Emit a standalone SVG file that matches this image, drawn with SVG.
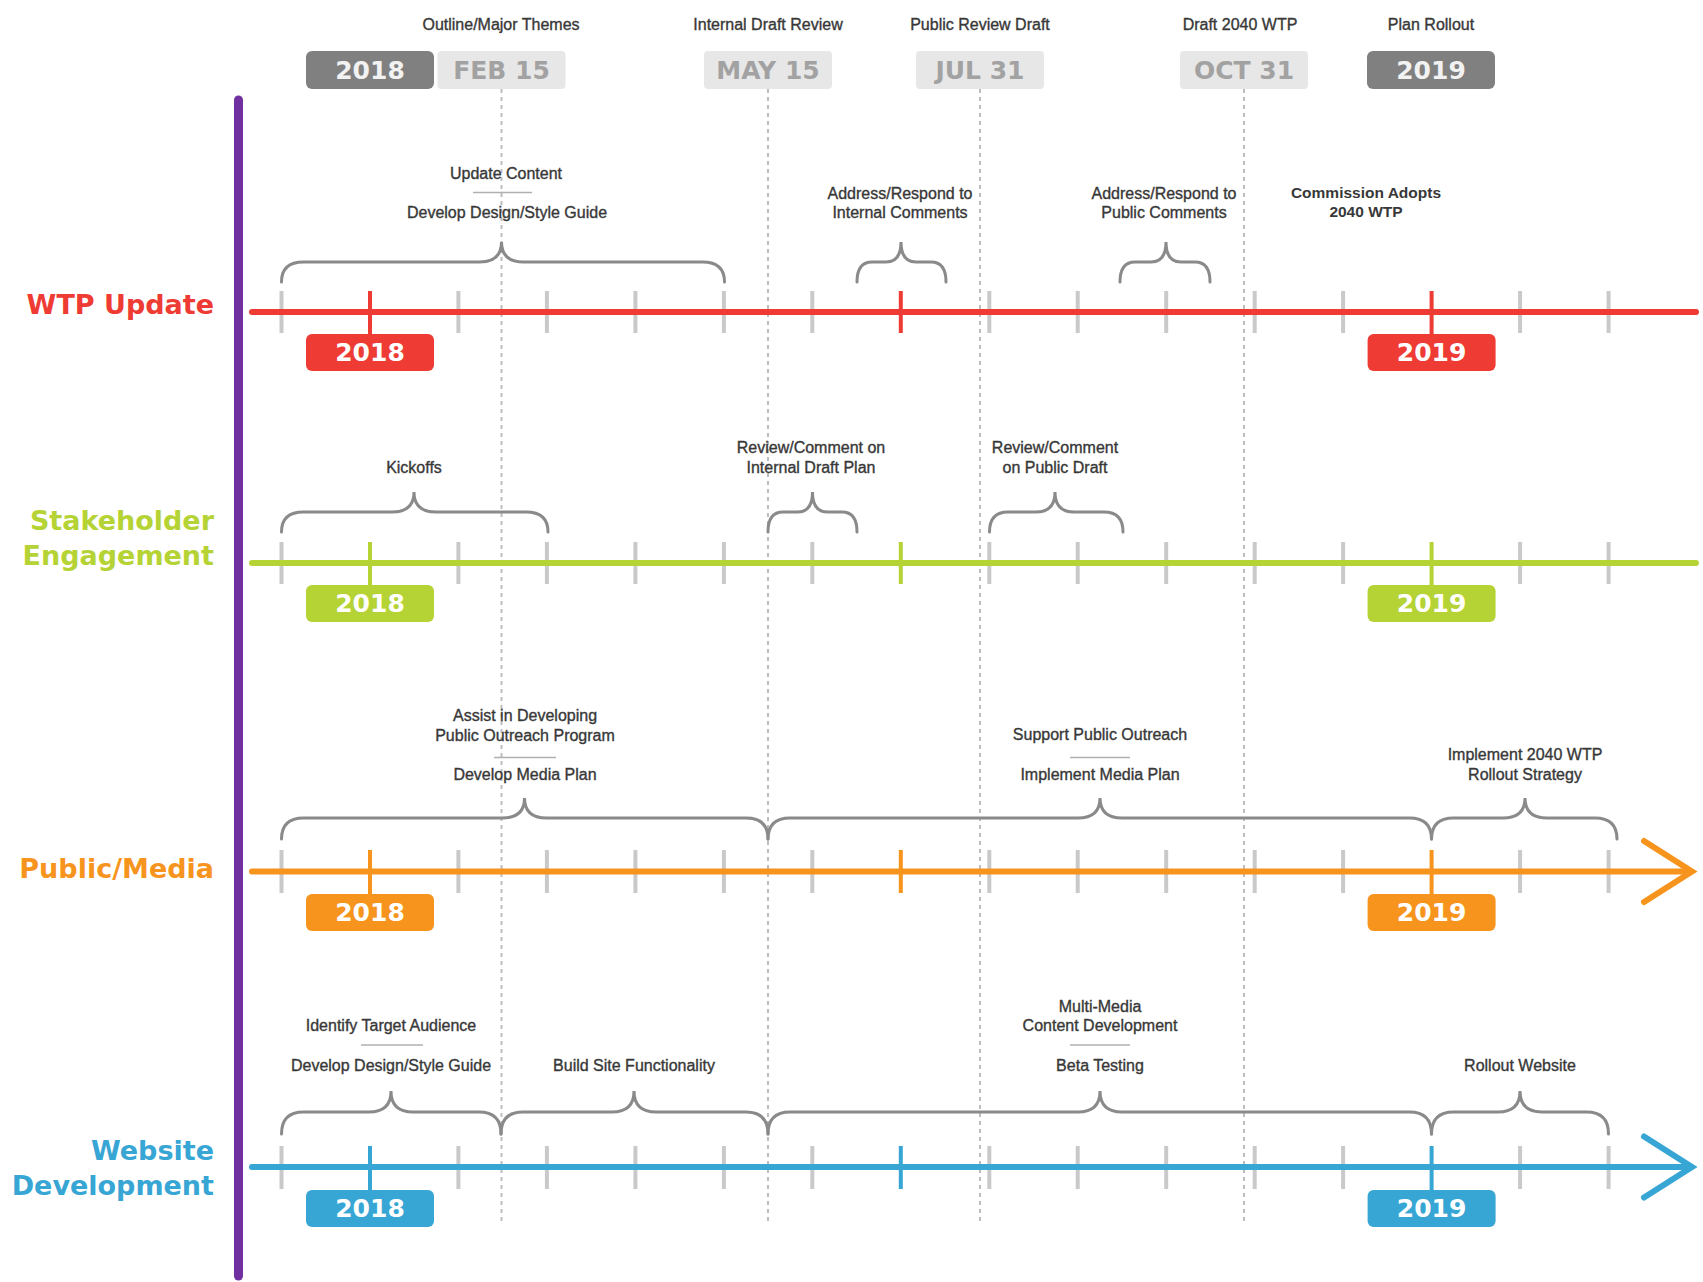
<svg xmlns="http://www.w3.org/2000/svg" width="1703" height="1282" viewBox="0 0 1703 1282">
<style>
.ann{font-family:"Liberation Sans",Arial,sans-serif;font-size:16px;fill:#383838;stroke:#383838;stroke-width:0.35;text-anchor:middle}
.annb{font-family:"Liberation Sans",Arial,sans-serif;font-size:15.5px;font-weight:bold;fill:#383838;text-anchor:middle}
.lab{font-family:"DejaVu Sans",sans-serif;font-size:27px;font-weight:bold;text-anchor:end}
.yr{font-family:"DejaVu Sans",sans-serif;font-size:25px;font-weight:bold;text-anchor:middle;fill:#ffffff}
.hd{font-family:"DejaVu Sans",sans-serif;font-size:25px;font-weight:bold;text-anchor:middle}
.brace{fill:none;stroke:#8a8a8a;stroke-width:3;stroke-linecap:round}
.tick{stroke:#c9c9c9;stroke-width:4}
.sep{stroke:#b0b0b0;stroke-width:1.5}
.dash{stroke:#bdbdbd;stroke-width:2;stroke-dasharray:4 4}
</style>
<rect width="1703" height="1282" fill="#ffffff"/>

<g id="milestone-lines">
<line class="dash" x1="501.5" y1="89" x2="501.5" y2="1225"/>
<line class="dash" x1="768" y1="89" x2="768" y2="1225"/>
<line class="dash" x1="980" y1="89" x2="980" y2="1225"/>
<line class="dash" x1="1244" y1="89" x2="1244" y2="1225"/>
</g>

<g id="header">
<text class="ann" x="501" y="30">Outline/Major Themes</text>
<text class="ann" x="768" y="30">Internal Draft Review</text>
<text class="ann" x="980" y="30">Public Review Draft</text>
<text class="ann" x="1240" y="30">Draft 2040 WTP</text>
<text class="ann" x="1431" y="30">Plan Rollout</text>
<rect x="306" y="51" width="128" height="38" rx="6" fill="#808080"/>
<text class="hd" x="370" y="79" fill="#f2f2f2">2018</text>
<rect x="437.5" y="51" width="128" height="38" rx="4" fill="#e7e7e7"/>
<text class="hd" x="501.5" y="79" fill="#a2a2a2">FEB 15</text>
<rect x="704" y="51" width="128" height="38" rx="4" fill="#e7e7e7"/>
<text class="hd" x="768" y="79" fill="#a2a2a2">MAY 15</text>
<rect x="916" y="51" width="128" height="38" rx="4" fill="#e7e7e7"/>
<text class="hd" x="980" y="79" fill="#a2a2a2">JUL 31</text>
<rect x="1180" y="51" width="128" height="38" rx="4" fill="#e7e7e7"/>
<text class="hd" x="1244" y="79" fill="#a2a2a2">OCT 31</text>
<rect x="1367" y="51" width="128" height="38" rx="6" fill="#808080"/>
<text class="hd" x="1431" y="79" fill="#f2f2f2">2019</text>
</g>

<g id="divider">
<line x1="238.5" y1="100" x2="238.5" y2="1276" stroke="#7030a0" stroke-width="9" stroke-linecap="round"/>
</g>

<!-- Row 1: WTP Update -->
<g id="wtp-update">
<text class="lab" x="214" y="314" fill="#ee3b33">WTP Update</text>
<g>
<line class="tick" x1="281.5" y1="291" x2="281.5" y2="333"/>
<line class="tick" x1="458.4" y1="291" x2="458.4" y2="333"/>
<line class="tick" x1="546.9" y1="291" x2="546.9" y2="333"/>
<line class="tick" x1="635.4" y1="291" x2="635.4" y2="333"/>
<line class="tick" x1="723.9" y1="291" x2="723.9" y2="333"/>
<line class="tick" x1="812.3" y1="291" x2="812.3" y2="333"/>
<line class="tick" x1="989.3" y1="291" x2="989.3" y2="333"/>
<line class="tick" x1="1077.7" y1="291" x2="1077.7" y2="333"/>
<line class="tick" x1="1166.2" y1="291" x2="1166.2" y2="333"/>
<line class="tick" x1="1254.7" y1="291" x2="1254.7" y2="333"/>
<line class="tick" x1="1343.1" y1="291" x2="1343.1" y2="333"/>
<line class="tick" x1="1520.1" y1="291" x2="1520.1" y2="333"/>
<line class="tick" x1="1608.6" y1="291" x2="1608.6" y2="333"/>
</g>
<line x1="252" y1="312" x2="1696" y2="312" stroke="#ee3b33" stroke-width="6" stroke-linecap="round"/>
<line x1="370" y1="291" x2="370" y2="336" stroke="#ee3b33" stroke-width="4"/>
<line x1="900.8" y1="291" x2="900.8" y2="333" stroke="#ee3b33" stroke-width="4"/>
<line x1="1431.6" y1="291" x2="1431.6" y2="336" stroke="#ee3b33" stroke-width="4"/>
<rect x="306" y="334" width="128" height="37" rx="6" fill="#ee3b33"/>
<text class="yr" x="370" y="361">2018</text>
<rect x="1367.6" y="334" width="128" height="37" rx="6" fill="#ee3b33"/>
<text class="yr" x="1431.6" y="361">2019</text>
<text class="ann" x="506" y="178.5">Update Content</text>
<line class="sep" x1="473" y1="192.5" x2="532" y2="192.5"/>
<text class="ann" x="507" y="218">Develop Design/Style Guide</text>
<text class="ann" x="900" y="198.5">Address/Respond to</text>
<text class="ann" x="900" y="218">Internal Comments</text>
<text class="ann" x="1164" y="198.5">Address/Respond to</text>
<text class="ann" x="1164" y="218">Public Comments</text>
<text class="annb" x="1366" y="197.5">Commission Adopts</text>
<text class="annb" x="1366" y="216.5">2040 WTP</text>
<path class="brace" d="M281.5,282 Q281.5,262 303.5,262 L479.5,262 Q501.5,262 501.5,242 Q501.5,262 523.5,262 L702.5,262 Q724.5,262 724.5,282"/>
<path class="brace" d="M857,282 Q857,262 872,262 L886,262 Q901,262 901,242 Q901,262 916,262 L931,262 Q946,262 946,282"/>
<path class="brace" d="M1120,282 Q1120,262 1135,262 L1151,262 Q1166,262 1166,242 Q1166,262 1181,262 L1195,262 Q1210,262 1210,282"/>
</g>

<!-- Row 2: Stakeholder Engagement -->
<g id="stakeholder-engagement">
<text class="lab" x="214" y="530" fill="#b5d334">Stakeholder</text>
<text class="lab" x="214" y="565" fill="#b5d334">Engagement</text>
<g>
<line class="tick" x1="281.5" y1="542" x2="281.5" y2="584"/>
<line class="tick" x1="458.4" y1="542" x2="458.4" y2="584"/>
<line class="tick" x1="546.9" y1="542" x2="546.9" y2="584"/>
<line class="tick" x1="635.4" y1="542" x2="635.4" y2="584"/>
<line class="tick" x1="723.9" y1="542" x2="723.9" y2="584"/>
<line class="tick" x1="812.3" y1="542" x2="812.3" y2="584"/>
<line class="tick" x1="989.3" y1="542" x2="989.3" y2="584"/>
<line class="tick" x1="1077.7" y1="542" x2="1077.7" y2="584"/>
<line class="tick" x1="1166.2" y1="542" x2="1166.2" y2="584"/>
<line class="tick" x1="1254.7" y1="542" x2="1254.7" y2="584"/>
<line class="tick" x1="1343.1" y1="542" x2="1343.1" y2="584"/>
<line class="tick" x1="1520.1" y1="542" x2="1520.1" y2="584"/>
<line class="tick" x1="1608.6" y1="542" x2="1608.6" y2="584"/>
</g>
<line x1="252" y1="563" x2="1696" y2="563" stroke="#b5d334" stroke-width="6" stroke-linecap="round"/>
<line x1="370" y1="542" x2="370" y2="587" stroke="#b5d334" stroke-width="4"/>
<line x1="900.8" y1="542" x2="900.8" y2="584" stroke="#b5d334" stroke-width="4"/>
<line x1="1431.6" y1="542" x2="1431.6" y2="587" stroke="#b5d334" stroke-width="4"/>
<rect x="306" y="585" width="128" height="37" rx="6" fill="#b5d334"/>
<text class="yr" x="370" y="612">2018</text>
<rect x="1367.6" y="585" width="128" height="37" rx="6" fill="#b5d334"/>
<text class="yr" x="1431.6" y="612">2019</text>
<text class="ann" x="414" y="473">Kickoffs</text>
<text class="ann" x="811" y="452.5">Review/Comment on</text>
<text class="ann" x="811" y="472.5">Internal Draft Plan</text>
<text class="ann" x="1055" y="452.5">Review/Comment</text>
<text class="ann" x="1055" y="472.5">on Public Draft</text>
<path class="brace" d="M281.5,532 Q281.5,512 303.5,512 L392,512 Q414,512 414,492 Q414,512 436,512 L526,512 Q548,512 548,532"/>
<path class="brace" d="M768,532 Q768,512 783,512 L797.5,512 Q812.5,512 812.5,492 Q812.5,512 827.5,512 L842,512 Q857,512 857,532"/>
<path class="brace" d="M989.5,532 Q989.5,512 1008,512 L1036,512 Q1055,512 1055,492 Q1055,512 1074,512 L1104,512 Q1123,512 1123,532"/>
</g>

<!-- Row 3: Public/Media -->
<g id="public-media">
<text class="lab" x="214" y="878" fill="#f7941d">Public/Media</text>
<g>
<line class="tick" x1="281.5" y1="850" x2="281.5" y2="893"/>
<line class="tick" x1="458.4" y1="850" x2="458.4" y2="893"/>
<line class="tick" x1="546.9" y1="850" x2="546.9" y2="893"/>
<line class="tick" x1="635.4" y1="850" x2="635.4" y2="893"/>
<line class="tick" x1="723.9" y1="850" x2="723.9" y2="893"/>
<line class="tick" x1="812.3" y1="850" x2="812.3" y2="893"/>
<line class="tick" x1="989.3" y1="850" x2="989.3" y2="893"/>
<line class="tick" x1="1077.7" y1="850" x2="1077.7" y2="893"/>
<line class="tick" x1="1166.2" y1="850" x2="1166.2" y2="893"/>
<line class="tick" x1="1254.7" y1="850" x2="1254.7" y2="893"/>
<line class="tick" x1="1343.1" y1="850" x2="1343.1" y2="893"/>
<line class="tick" x1="1520.1" y1="850" x2="1520.1" y2="893"/>
<line class="tick" x1="1608.6" y1="850" x2="1608.6" y2="893"/>
</g>
<line x1="252" y1="871.5" x2="1690" y2="871.5" stroke="#f7941d" stroke-width="6" stroke-linecap="round"/>
<polyline points="1644,841 1692,871.5 1644,902" fill="none" stroke="#f7941d" stroke-width="6" stroke-linecap="round" stroke-linejoin="miter"/>
<line x1="370" y1="850" x2="370" y2="896" stroke="#f7941d" stroke-width="4"/>
<line x1="900.8" y1="850" x2="900.8" y2="893" stroke="#f7941d" stroke-width="4"/>
<line x1="1431.6" y1="850" x2="1431.6" y2="896" stroke="#f7941d" stroke-width="4"/>
<rect x="306" y="894" width="128" height="37" rx="6" fill="#f7941d"/>
<text class="yr" x="370" y="921">2018</text>
<rect x="1367.6" y="894" width="128" height="37" rx="6" fill="#f7941d"/>
<text class="yr" x="1431.6" y="921">2019</text>
<text class="ann" x="525" y="721">Assist in Developing</text>
<text class="ann" x="525" y="740.5">Public Outreach Program</text>
<line class="sep" x1="494" y1="757.5" x2="556" y2="757.5"/>
<text class="ann" x="525" y="779.5">Develop Media Plan</text>
<text class="ann" x="1100" y="740">Support Public Outreach</text>
<line class="sep" x1="1070" y1="757.5" x2="1130" y2="757.5"/>
<text class="ann" x="1100" y="780">Implement Media Plan</text>
<text class="ann" x="1525" y="760">Implement 2040 WTP</text>
<text class="ann" x="1525" y="779.5">Rollout Strategy</text>
<path class="brace" d="M281.5,839 Q281.5,818 303.5,818 L502.5,818 Q524.5,818 524.5,798 Q524.5,818 546.5,818 L746,818 Q768,818 768,839"/>
<path class="brace" d="M768,839 Q768,818 790,818 L1078,818 Q1100,818 1100,798 Q1100,818 1122,818 L1409.5,818 Q1431.5,818 1431.5,839"/>
<path class="brace" d="M1431.5,839 Q1431.5,818 1453.5,818 L1503,818 Q1525,818 1525,798 Q1525,818 1547,818 L1595,818 Q1617,818 1617,839"/>
</g>

<!-- Row 4: Website Development -->
<g id="website-development">
<text class="lab" x="214" y="1160" fill="#38a6d4">Website</text>
<text class="lab" x="214" y="1195" fill="#38a6d4">Development</text>
<g>
<line class="tick" x1="281.5" y1="1146" x2="281.5" y2="1189"/>
<line class="tick" x1="458.4" y1="1146" x2="458.4" y2="1189"/>
<line class="tick" x1="546.9" y1="1146" x2="546.9" y2="1189"/>
<line class="tick" x1="635.4" y1="1146" x2="635.4" y2="1189"/>
<line class="tick" x1="723.9" y1="1146" x2="723.9" y2="1189"/>
<line class="tick" x1="812.3" y1="1146" x2="812.3" y2="1189"/>
<line class="tick" x1="989.3" y1="1146" x2="989.3" y2="1189"/>
<line class="tick" x1="1077.7" y1="1146" x2="1077.7" y2="1189"/>
<line class="tick" x1="1166.2" y1="1146" x2="1166.2" y2="1189"/>
<line class="tick" x1="1254.7" y1="1146" x2="1254.7" y2="1189"/>
<line class="tick" x1="1343.1" y1="1146" x2="1343.1" y2="1189"/>
<line class="tick" x1="1520.1" y1="1146" x2="1520.1" y2="1189"/>
<line class="tick" x1="1608.6" y1="1146" x2="1608.6" y2="1189"/>
</g>
<line x1="252" y1="1167" x2="1690" y2="1167" stroke="#38a6d4" stroke-width="6" stroke-linecap="round"/>
<polyline points="1644,1136.5 1692,1167 1644,1197.5" fill="none" stroke="#38a6d4" stroke-width="6" stroke-linecap="round" stroke-linejoin="miter"/>
<line x1="370" y1="1146" x2="370" y2="1192" stroke="#38a6d4" stroke-width="4"/>
<line x1="900.8" y1="1146" x2="900.8" y2="1189" stroke="#38a6d4" stroke-width="4"/>
<line x1="1431.6" y1="1146" x2="1431.6" y2="1192" stroke="#38a6d4" stroke-width="4"/>
<rect x="306" y="1190" width="128" height="37" rx="6" fill="#38a6d4"/>
<text class="yr" x="370" y="1217">2018</text>
<rect x="1367.6" y="1190" width="128" height="37" rx="6" fill="#38a6d4"/>
<text class="yr" x="1431.6" y="1217">2019</text>
<text class="ann" x="391" y="1030.5">Identify Target Audience</text>
<line class="sep" x1="361" y1="1045" x2="423" y2="1045"/>
<text class="ann" x="391" y="1071">Develop Design/Style Guide</text>
<text class="ann" x="634" y="1071">Build Site Functionality</text>
<text class="ann" x="1100" y="1011.5">Multi-Media</text>
<text class="ann" x="1100" y="1031">Content Development</text>
<line class="sep" x1="1070" y1="1045" x2="1130" y2="1045"/>
<text class="ann" x="1100" y="1071">Beta Testing</text>
<text class="ann" x="1520" y="1071">Rollout Website</text>
<path class="brace" d="M281.5,1134 Q281.5,1112 303.5,1112 L369,1112 Q391,1112 391,1091 Q391,1112 413,1112 L479,1112 Q501,1112 501,1134"/>
<path class="brace" d="M501,1134 Q501,1112 523,1112 L612,1112 Q634,1112 634,1091 Q634,1112 656,1112 L746,1112 Q768,1112 768,1134"/>
<path class="brace" d="M768,1134 Q768,1112 790,1112 L1078,1112 Q1100,1112 1100,1091 Q1100,1112 1122,1112 L1409.5,1112 Q1431.5,1112 1431.5,1134"/>
<path class="brace" d="M1431.5,1134 Q1431.5,1112 1453.5,1112 L1498,1112 Q1520,1112 1520,1091 Q1520,1112 1542,1112 L1586.5,1112 Q1608.5,1112 1608.5,1134"/>
</g>
</svg>
